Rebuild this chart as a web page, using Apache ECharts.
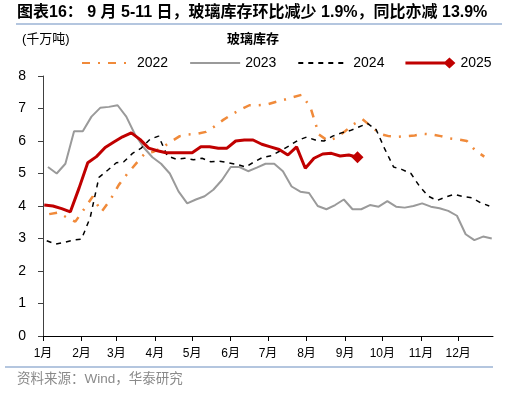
<!DOCTYPE html>
<html>
<head>
<meta charset="utf-8">
<script src="https://cdn.jsdelivr.net/npm/echarts@6/dist/echarts.min.js"></script>
<style>html,body{margin:0;padding:0;background:#fff;}#c{width:516px;height:397px;}</style>
</head>
<body>
<div id="c"></div>
<script>
// Calendar: month start offsets (day of year) used as x tick positions, and tick labels
const monthStarts = [0, 31, 59, 90, 120, 151, 181, 212, 243, 273, 304, 334];
const monthLabels = ['1月','2月','3月','4月','5月','6月','7月','8月','9月','10月','11月','12月'];

// Weekly observations (Thursdays); first observation date [year, monthIndex, day]
const start2022 = [2022, 0, 6];
const start2023 = [2023, 0, 5];
const start2024 = [2024, 0, 4];
const start2025 = [2025, 0, 2];

// Glass inventory, 千万吨
const v2022 = [3.75,3.8,3.65,3.52,3.9,4.29,3.82,4.18,4.65,5.0,5.31,5.62,5.67,5.8,5.98,6.15,6.2,6.22,6.28,6.45,6.65,6.82,6.97,7.1,7.1,7.12,7.2,7.27,7.35,7.42,7.05,6.2,6.01,6.1,6.3,6.52,6.67,6.45,6.22,6.15,6.13,6.15,6.17,6.22,6.2,6.15,6.08,6.05,6.0,5.7,5.52];
const v2023 = [5.2,5.0,5.3,6.3,6.3,6.75,7.02,7.05,7.1,6.75,6.2,5.8,5.5,5.3,5.0,4.45,4.08,4.2,4.3,4.5,4.8,5.2,5.2,5.07,5.18,5.3,5.3,5.07,4.6,4.44,4.4,4.0,3.9,4.03,4.2,3.9,3.9,4.03,3.98,4.15,3.98,3.95,4.0,4.08,3.98,3.93,3.85,3.7,3.13,2.95,3.06,3.0];
const v2024 = [2.93,2.83,2.88,2.95,2.98,3.65,4.88,5.1,5.33,5.36,5.62,5.78,6.05,6.15,5.54,5.44,5.47,5.42,5.47,5.36,5.38,5.33,5.28,5.2,5.36,5.5,5.55,5.7,5.85,6.02,6.12,6.03,6.0,6.15,6.25,6.32,6.43,6.54,6.35,5.75,5.2,5.12,5.0,4.6,4.3,4.17,4.28,4.36,4.29,4.25,4.1,4.0];
const v2025 = [4.03,4.0,3.92,3.82,4.55,5.33,5.52,5.8,5.97,6.13,6.25,6.05,5.78,5.7,5.64,5.64,5.64,5.64,5.82,5.82,5.78,5.78,6.0,6.03,6.03,5.9,5.82,5.74,5.57,5.82,5.16,5.47,5.6,5.62,5.54,5.57,5.5];

const yTicks = [0,1,2,3,4,5,6,7,8];

function dayPos(start, i) {
  const dt = new Date(start[0], start[1], start[2] + 7 * i);
  return monthStarts[dt.getMonth()] + dt.getDate() - 1;
}
function toPts(start, vals) { return vals.map((v, i) => [dayPos(start, i), v]); }

const FONT = '"Liberation Sans", "Noto Sans CJK SC", sans-serif';
const chart = echarts.init(document.getElementById('c'), null, {renderer: 'canvas'});
const last25 = v2025.length - 1;

chart.setOption({
  animation: false,
  textStyle: {fontFamily: FONT},
  title: [
    {text: '图表16： 9 月 5-11 日，玻璃库存环比减少 1.9%，同比亦减 13.9%', left: 12, top: 0,
     textStyle: {fontSize: 16, fontWeight: 'bold', color: '#000', fontFamily: FONT}},
    {text: '(千万吨)', left: 17, top: 28, textStyle: {fontSize: 13, fontWeight: 'normal', color: '#000', fontFamily: FONT}},
    {text: '玻璃库存', left: 222, top: 28, textStyle: {fontSize: 13, fontWeight: 'bold', color: '#000', fontFamily: FONT}},
    {text: '资料来源：Wind，华泰研究', left: 12, top: 368, textStyle: {fontSize: 13.5, fontWeight: 'normal', color: '#8a8a8a', fontFamily: FONT}}
  ],
  graphic: [
    {type: 'line', shape: {x1: 16, y1: 24, x2: 502, y2: 24}, style: {stroke: '#9bb3d4', lineWidth: 1.5}},
    {type: 'line', shape: {x1: 5, y1: 367, x2: 493, y2: 367}, style: {stroke: '#9bb3d4', lineWidth: 1.5}}
  ],
  legend: {
    left: 76, top: 51, itemWidth: 50, itemHeight: 14, itemGap: 21,
    textStyle: {fontSize: 14, color: '#000', fontFamily: FONT},
    data: [
      {name: '2022', itemStyle: {opacity: 0}},
      {name: '2023', itemStyle: {opacity: 0}},
      {name: '2024', itemStyle: {opacity: 0}},
      {name: '2025', icon: 'path://M0,5.5 L44,5.5 L44,8.5 L0,8.5 Z M44,1.5 L50,7 L44,12.5 L38,7 Z'}
    ]
  },
  grid: {left: 43, right: 23, top: 76, bottom: 61, containLabel: false},
  xAxis: {
    type: 'value', min: 0, max: 362,
    axisLine: {show: true, lineStyle: {color: '#000', width: 1}},
    axisTick: {show: true, customValues: monthStarts, length: 5, lineStyle: {color: '#000'}},
    axisLabel: {show: true, customValues: monthStarts, margin: 12, fontSize: 12, color: '#000', fontFamily: FONT,
      formatter: (v) => monthLabels[monthStarts.indexOf(v)] || ''},
    splitLine: {show: false}
  },
  yAxis: {
    type: 'value', min: yTicks[0], max: yTicks[yTicks.length - 1], interval: 1,
    axisLine: {show: true, lineStyle: {color: '#404040', width: 1}},
    axisTick: {show: true, length: 5, lineStyle: {color: '#404040'}},
    axisLabel: {margin: 17, fontSize: 14, color: '#000', fontFamily: FONT},
    splitLine: {show: false}
  },
  series: [
    {name: '2022', type: 'line', data: toPts(start2022, v2022), symbol: 'none', z: 2,
     lineStyle: {color: '#F08A3A', width: 2.5, type: [8, 8, 2, 8]}, itemStyle: {color: '#F08A3A'}},
    {name: '2023', type: 'line', data: toPts(start2023, v2023), symbol: 'none', z: 2,
     lineStyle: {color: '#9a9a9a', width: 2}, itemStyle: {color: '#9a9a9a'}},
    {name: '2024', type: 'line', data: toPts(start2024, v2024), symbol: 'none', z: 3,
     lineStyle: {color: '#000', width: 1.5, type: [5, 5]}, itemStyle: {color: '#000'}},
    {name: '2025', type: 'line', data: toPts(start2025, v2025), z: 4,
     symbol: 'diamond', showAllSymbol: true,
     symbolSize: (val, p) => p.dataIndex === last25 ? 12 : 0,
     lineStyle: {color: '#C00000', width: 3}, itemStyle: {color: '#C00000'}}
  ]
});
</script>
</body>
</html>
